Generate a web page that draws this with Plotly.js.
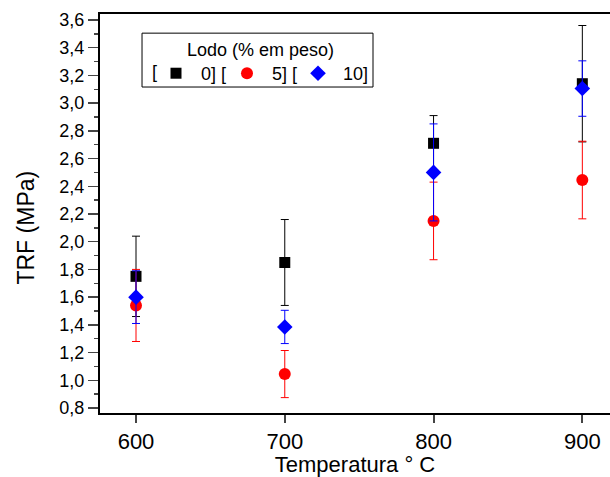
<!DOCTYPE html>
<html><head><meta charset="utf-8">
<script src="https://cdn.plot.ly/plotly-3.0.1.min.js"></script>
<style>html,body{margin:0;padding:0;background:#fff}#c{width:610px;height:477px}</style>
</head><body><div id="c"></div>
<script>
const temps = [600, 700, 800, 900];
const names = ["\u00a00] [", "\u00a05] [", "\u00a010]"];
const trf0 = [1.75, 1.85, 2.71, 3.14];
const err0 = [0.29, 0.31, 0.20, 0.42];
const trf5 = [1.54, 1.045, 2.15, 2.445];
const err5 = [0.26, 0.17, 0.28, 0.28];
const trf10 = [1.60, 1.385, 2.50, 3.105];
const err10 = [0.19, 0.12, 0.35, 0.20];
const colors = ["#000000", "#ff0000", "#0000ff"];
const symbols = ["square", "circle", "diamond"];
const sizes = [11, 12, 12];
const ys = [trf0, trf5, trf10];
const errs = [err0, err5, err10];

const font = "Liberation Sans, Arial, sans-serif";
const data = ys.map((y, i) => ({
  type: "scatter", mode: "markers", x: temps, y: y, name: names[i],
  marker: {color: colors[i], symbol: symbols[i], size: sizes[i]},
  error_y: {type: "data", array: errs[i], visible: true, color: colors[i], thickness: 1, width: 4}
}));

const layout = {
  width: 610, height: 477,
  margin: {l: 100, r: 0, t: 14, b: 64},
  paper_bgcolor: "#fff", plot_bgcolor: "#fff",
  separators: ",.",
  font: {family: font, color: "#000"},
  showlegend: true,
  legend: {orientation: "h", x: 0.1098, y: 0.8972, xanchor: "left", yanchor: "top",
    entrywidth: 26, entrywidthmode: "pixels",
    bgcolor: "rgba(0,0,0,0)", font: {size: 18, family: font}, itemclick: false},
  xaxis: {range: [575.8, 918.6], tickvals: temps, ticks: "outside", ticklen: 8, tickwidth: 2,
    showline: true, linewidth: 2, linecolor: "#000", mirror: true, showgrid: false, zeroline: false,
    tickfont: {size: 22}, title: {text: "Temperatura ° C", font: {size: 22}, standoff: 4}},
  yaxis: {range: [0.764, 3.643], dtick: 0.2, tick0: 0.8, tickformat: ".1f", ticks: "outside", ticklen: 10, tickwidth: 1.5,
    showline: true, linewidth: 2, linecolor: "#000", showgrid: false, zeroline: false,
    minor: {dtick: 0.1, ticks: "outside", ticklen: 4, tickwidth: 1.5, showgrid: false},
    tickfont: {size: 18}},
  shapes: [{type: "rect", xref: "paper", yref: "paper", x0: 0.0824, x1: 0.5353, y0: 0.817, y1: 0.952,
    line: {color: "#000", width: 1}}],
  annotations: [
    {text: "TRF (MPa)", xref: "paper", yref: "paper", x: -0.147, y: 0.4649, xanchor: "center", yanchor: "middle",
      textangle: -90, showarrow: false, font: {size: 23}},
    {text: "Lodo (% em peso)", xref: "paper", yref: "paper", x: 0.3147, y: 0.9098, xanchor: "center", yanchor: "middle",
      showarrow: false, font: {size: 18}},
    {text: "[", xref: "paper", yref: "paper", x: 0.1078, y: 0.8546, xanchor: "center", yanchor: "middle",
      showarrow: false, font: {size: 18}}
  ]
};
Plotly.newPlot("c", data, layout, {displayModeBar: false, staticPlot: true});
</script></body></html>
